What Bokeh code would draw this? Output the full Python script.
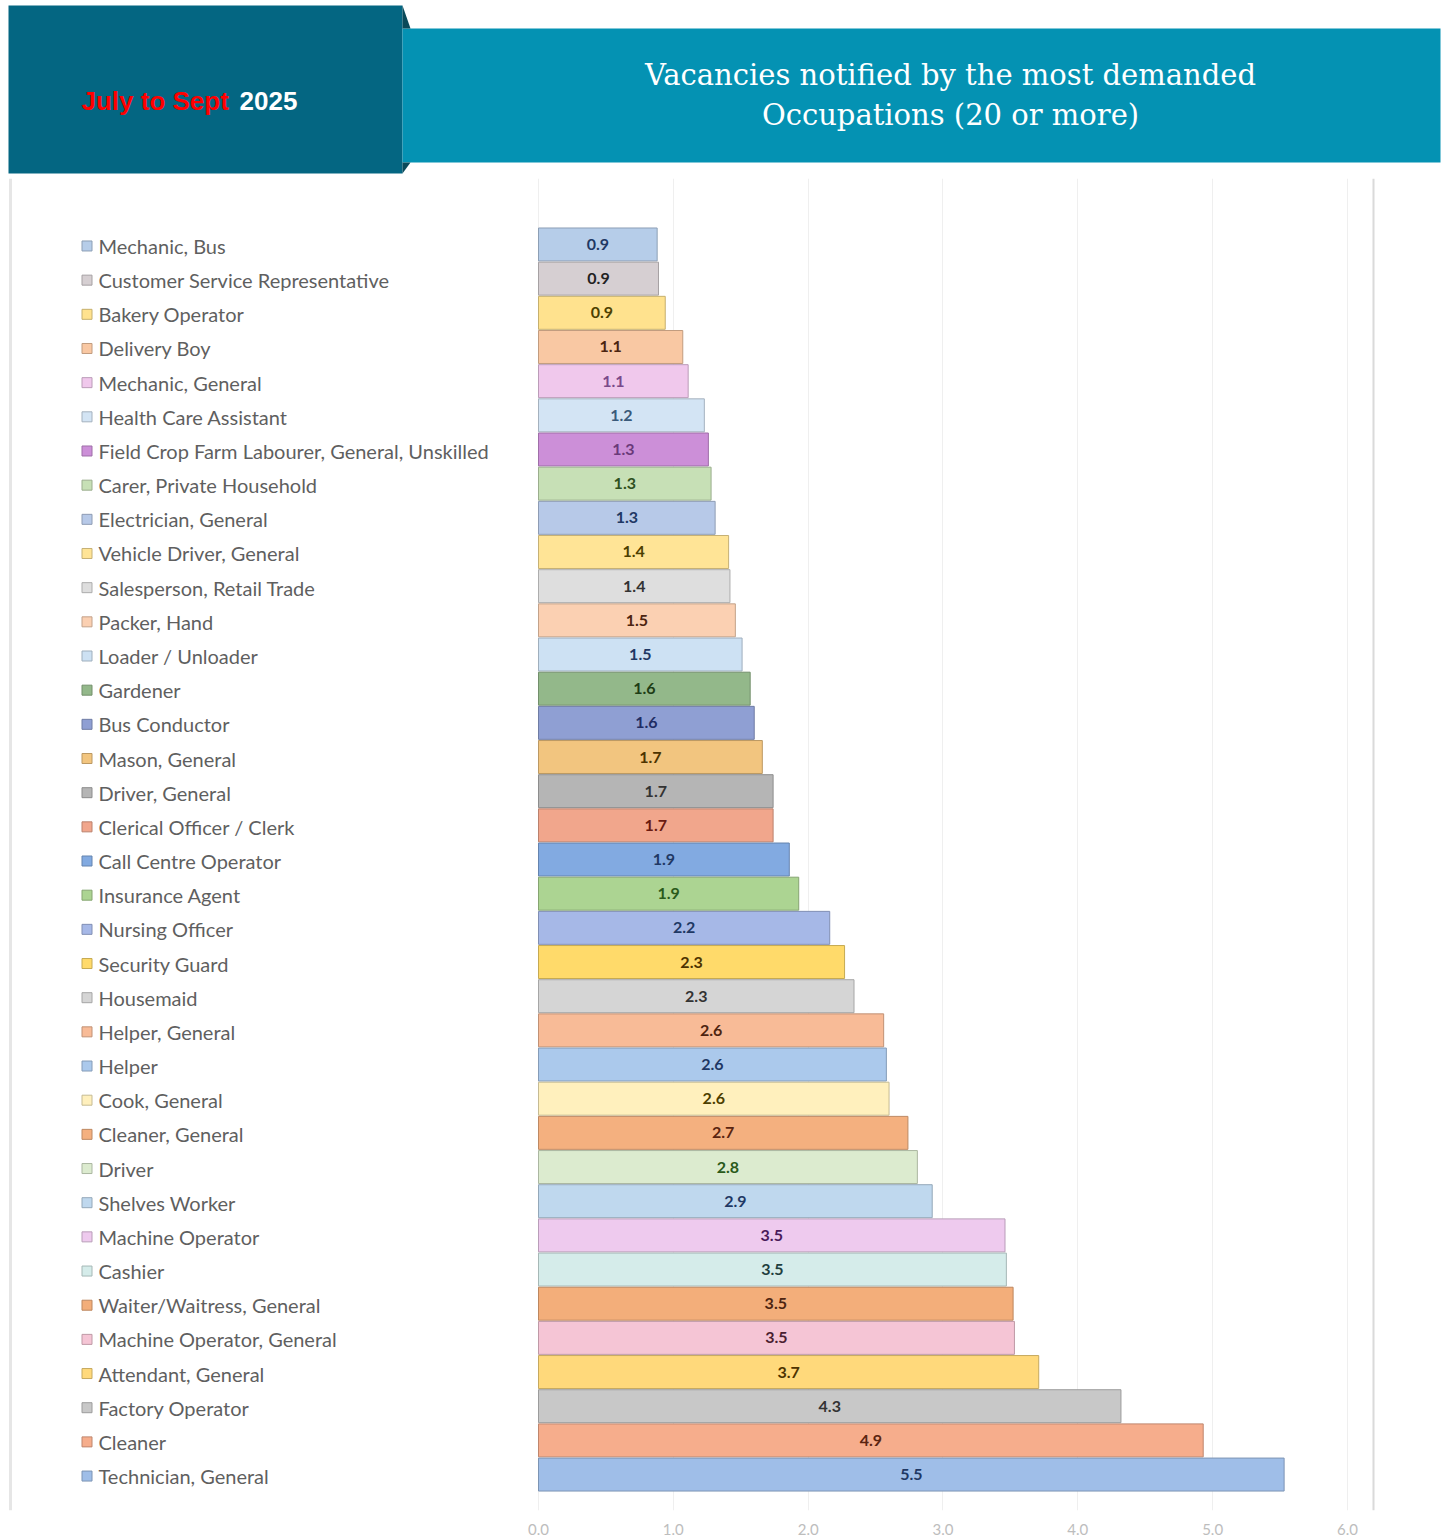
from bokeh.plotting import figure
from bokeh.layouts import column
from bokeh.models import Range1d, FixedTicker, PrintfTickFormatter, ColumnDataSource, Span
from bokeh.core.properties import value
from bokeh.embed import file_html
from bokeh.resources import INLINE

# ---------------- data ----------------
categories = [
    "Mechanic, Bus", "Customer Service Representative", "Bakery Operator", "Delivery Boy",
    "Mechanic, General", "Health Care Assistant", "Field Crop Farm Labourer, General, Unskilled",
    "Carer, Private Household", "Electrician, General", "Vehicle Driver, General",
    "Salesperson, Retail Trade", "Packer, Hand", "Loader / Unloader", "Gardener",
    "Bus Conductor", "Mason, General", "Driver, General", "Clerical Officer / Clerk",
    "Call Centre Operator", "Insurance Agent", "Nursing Officer", "Security Guard",
    "Housemaid", "Helper, General", "Helper", "Cook, General", "Cleaner, General",
    "Driver", "Shelves Worker", "Machine Operator", "Cashier", "Waiter/Waitress, General",
    "Machine Operator, General", "Attendant, General", "Factory Operator", "Cleaner",
    "Technician, General",
]
values = [
    0.88, 0.89, 0.94, 1.07, 1.11, 1.23, 1.26, 1.28, 1.31, 1.41,
    1.42, 1.46, 1.51, 1.57, 1.60, 1.66, 1.74, 1.74, 1.86, 1.93,
    2.16, 2.27, 2.34, 2.56, 2.58, 2.60, 2.74, 2.81, 2.92, 3.46,
    3.47, 3.52, 3.53, 3.71, 4.32, 4.93, 5.53,
]
x_ticks = [0, 1, 2, 3, 4, 5, 6]
period_label = "July to Sept"
year_label = "2025"
title_lines = ["Vacancies notified by the most demanded", "Occupations (20 or more)"]

# ---------------- styles ----------------
bar_colors = [
    "#b6cde9", "#d6cfd2", "#ffe28e", "#f9c8a3", "#f0c8ec", "#d3e4f4", "#cc8fd8",
    "#c7e0b6", "#b7c9e8", "#ffe496", "#dedede", "#fbd0b2", "#cde1f3", "#93b88a",
    "#8f9fd3", "#f2c57f", "#b5b5b5", "#f1a68c", "#82aae1", "#acd492", "#a6b8e7",
    "#ffda6a", "#d5d5d5", "#f8bb97", "#abc9ec", "#fff0bd", "#f4b07f", "#dcebcf",
    "#bfd8ee", "#eecaee", "#d5ecea", "#f3ae7a", "#f5c5d5", "#ffd97b", "#c8c8c8",
    "#f6ad8c", "#9fbee8",
]
label_colors = [
    "#1f3864", "#222222", "#4d3f00", "#4d2410", "#7a4a8a", "#3a5a7a", "#6a3a7a",
    "#2f5020", "#1f3864", "#4d3f00", "#333333", "#4d2410", "#1f3864", "#1e3d16",
    "#1f2d64", "#4d3300", "#333333", "#6a1a10", "#1f3864", "#2a5a1a", "#1f3864",
    "#4d3300", "#333333", "#4d2410", "#1f3864", "#4d3f00", "#5a2410", "#2a5a1a",
    "#1f3864", "#4a1a5a", "#1f3f3f", "#4d2410", "#4a2030", "#4d3300", "#333333",
    "#5a2410", "#1f3864",
]


def darker(hex_color, f=0.78):
    h = hex_color.lstrip("#")
    r, g, b = (int(h[i:i + 2], 16) for i in (0, 2, 4))
    return "#%02x%02x%02x" % (int(r * f), int(g * f), int(b * f))


line_colors = [darker(c) for c in bar_colors]

# ---------------- geometry (page pixels) ----------------
W = 1442
HEADER_H = 178
CHART_H = 1359
PX = 134.83            # pixels per unit on x
ZERO_X = 538           # pixel of value 0
PITCH = 34.22          # pixels per category row

n = len(categories)
pos = [n - 1 - i for i in range(n)]
labels = ["%.1f" % v for v in values]

# ---------------- header ----------------
hdr = figure(width=W, height=HEADER_H, x_range=Range1d(0, W), y_range=Range1d(HEADER_H, 0),
             x_axis_location=None, y_axis_location=None, toolbar_location=None,
             output_backend="svg", min_border=0)
hdr.outline_line_color = None
hdr.grid.visible = False
hdr.quad(left=[8], right=[402], top=[5], bottom=[173], fill_color="#046682", line_color=None)
hdr.quad(left=[402], right=[1440], top=[28], bottom=[162], fill_color="#0492b3", line_color=None)
hdr.patches(xs=[[402, 410, 402], [402, 410, 402]], ys=[[5, 28, 28], [162, 162, 173]],
            fill_color="#0b4a5a", line_color=None)
hdr.text(x=[81], y=[100], text=[period_label], text_color="#ff0000",
         text_font=value("Liberation Sans"), text_font_style="bold", text_font_size="26px",
         text_baseline="middle", text_align="left")
hdr.text(x=[239], y=[100], text=[year_label], text_color="#ffffff",
         text_font=value("Liberation Sans"), text_font_style="bold", text_font_size="26px",
         text_baseline="middle", text_align="left")
hdr.text(x=[950, 950], y=[74, 114], text=title_lines, text_color="#ffffff",
         text_font=value("DejaVu Serif"), text_font_size="29px",
         text_baseline="middle", text_align="center")

# ---------------- chart ----------------
x_start = -ZERO_X / PX
x_end = x_start + W / PX
frame_h = 1334
y_start = -(1512 - 1476) / PITCH
y_end = y_start + frame_h / PITCH

p = figure(width=W, height=CHART_H, x_range=Range1d(x_start, x_end), y_range=Range1d(y_start, y_end),
           y_axis_location=None, toolbar_location=None, output_backend="svg",
           min_border_left=0, min_border_right=0, min_border_top=0, min_border_bottom=25)
p.outline_line_color = None
p.ygrid.visible = False
p.xgrid.grid_line_color = "#efefef"
p.xaxis.ticker = FixedTicker(ticks=x_ticks)
p.xaxis.formatter = PrintfTickFormatter(format="%.1f")
p.xaxis.axis_line_color = None
p.xaxis.major_tick_line_color = None
p.xaxis.minor_tick_line_color = None
p.xaxis.major_label_text_color = "#bdbdbd"
p.xaxis.major_label_text_font = "Lato"
p.xaxis.major_label_text_font_size = "15px"
p.xaxis.major_label_standoff = 7

# frame borders of the picture
p.add_layout(Span(location=(10 - ZERO_X) / PX, dimension="height", line_color="#e6e6e6", line_width=3))
p.add_layout(Span(location=(1373 - ZERO_X) / PX, dimension="height", line_color="#dadada", line_width=2))

src = ColumnDataSource(dict(
    y=pos, ys=[y - 1.5 / PITCH for y in pos], v=values, half=[v / 2 for v in values],
    lab=labels, cat=categories, fill=bar_colors, line=line_colors, tc=label_colors,
))

p.hbar(y="y", left=0, right="v", height=0.965, fill_color="fill", line_color="line",
       line_width=1, source=src)
p.text(x="half", y="y", text="lab", text_color="tc", text_font=value("Lato"),
       text_font_style="bold", text_font_size="16px", text_align="center",
       text_baseline="middle", source=src)

sq_x = (86.5 - ZERO_X) / PX
txt_x = (98 - ZERO_X) / PX
p.scatter(x=sq_x, y="ys", marker="square", size=10, fill_color="fill", line_color="line",
          line_width=1, source=src)
p.text(x=txt_x, y="ys", text="cat", text_color="#5f5f5f", text_font=value("Lato"),
       text_font_size="20px", text_align="left", text_baseline="middle", source=src)

layout = column(hdr, p, spacing=0)
open("out.html", "w").write(file_html(layout, INLINE))
